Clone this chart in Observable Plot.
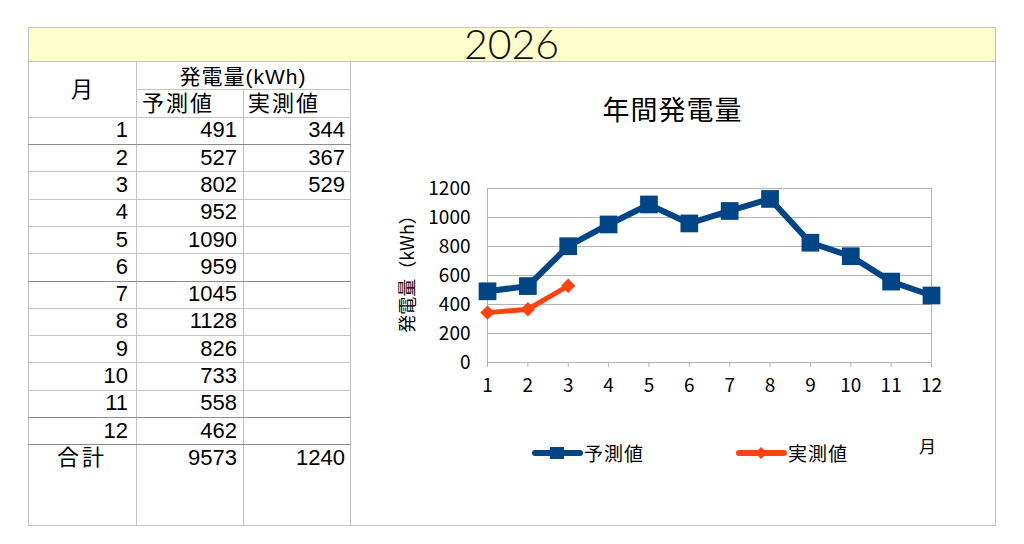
<!DOCTYPE html>
<html><head><meta charset="utf-8">
<script src="https://cdn.jsdelivr.net/npm/d3@7"></script>
<script src="https://cdn.jsdelivr.net/npm/@observablehq/plot@0.6"></script>
<style>
html,body{margin:0;padding:0;background:#fff;}
#root{position:relative;width:1024px;height:544px;overflow:hidden;font-family:"Noto Sans CJK JP","Noto Sans",sans-serif;color:#000;}
.ln{position:absolute;background:#c4c4c4;}
.cell{position:absolute;display:flex;align-items:center;font-family:"Liberation Sans","Noto Sans CJK JP",sans-serif;font-size:22px;line-height:1;white-space:nowrap;box-sizing:border-box;}
.cell span{display:block;line-height:1;}
</style></head><body><div id="root"></div>
<script>
// ---- data ----
const pageTitle = "2026";
const chartTitle = "年間発電量";
const monthHeader = "月";
const unitHeader = "発電量(kWh)";
const seriesNames = ["予測値", "実測値"];
const totalLabel = "合計";
const months = [1, 2, 3, 4, 5, 6, 7, 8, 9, 10, 11, 12];
const forecast = [491, 527, 802, 952, 1090, 959, 1045, 1128, 826, 733, 558, 462];
const actual = [344, 367, 529];
const totals = [9573, 1240];
const yTicks = [0, 200, 400, 600, 800, 1000, 1200];
const yLabel = "発電量（kWh）";
const xLabel = "月";
const colors = ["#004586", "#ff420e"];

const root = document.getElementById("root");
function el(tag, style, text) {
  const e = document.createElement(tag);
  Object.assign(e.style, style);
  if (text != null) e.textContent = text;
  root.appendChild(e);
  return e;
}
function hline(x1, x2, y, c) { const e = el("div", {left: x1 + "px", top: y + "px", width: (x2 - x1 + 1) + "px", height: "1px"}); e.className = "ln"; if (c) e.style.background = c; }
function vline(x, y1, y2, c) { const e = el("div", {left: x + "px", top: y1 + "px", width: "1px", height: (y2 - y1) + "px"}); e.className = "ln"; if (c) e.style.background = c; }
function cell(x1, x2, y1, y2, text, align, pad, extra) {
  const e = el("div", Object.assign({left: x1 + "px", top: y1 + "px", width: (x2 - x1) + "px", height: (y2 - y1) + "px",
    justifyContent: align === "right" ? "flex-end" : align === "center" ? "center" : "flex-start",
    paddingRight: align === "right" ? pad + "px" : "0", paddingLeft: align === "left" ? pad + "px" : "0"}, extra || {}));
  e.className = "cell";
  const sp = document.createElement("span");
  sp.textContent = text;
  e.appendChild(sp);
  return e;
}

// frame + yellow title bar
const L = 28, R = 995, T = 27, B = 525, Yb = 61;
el("div", {position: "absolute", left: L + "px", top: T + "px", width: (R - L) + "px", height: (Yb - T) + "px", background: "#ffffcc"});
hline(L, R, T); hline(L, R, Yb); hline(L, R, B); vline(L, T, B + 1); vline(R, T, B + 1);
el("div", {position: "absolute", left: L + "px", top: (T - 1) + "px", width: (R - L) + "px", height: (Yb - T) + "px",
  display: "flex", alignItems: "center", justifyContent: "center", fontFamily: "Lato, 'Open Sans', sans-serif", fontWeight: "300",
  fontSize: "41px", color: "#111", lineHeight: "1"}, pageTitle);

// table
const cx = [28, 136, 243, 350];
const h1 = 89, h2 = 116.7, rh = 27.3;
vline(cx[1], Yb, B); vline(cx[2], h1, B); vline(cx[3], Yb, B);
hline(cx[1], cx[3], h1);
hline(cx[0], cx[3], Math.round(h2));
months.forEach((m, i) => {
  const yb = Math.round(h2 + rh * (i + 1));
  const dark = (i === 0 || i === 5 || i === 10 || i === 11);
  hline(cx[0], cx[3], yb, dark ? "#8c8c8c" : null);
});
cell(cx[0], cx[1], Yb, h2, monthHeader, "center", 0, {paddingTop: "2px"});
cell(cx[1], cx[3], Yb, h1, unitHeader, "center", 0, {fontSize: "21px", letterSpacing: "1px", paddingTop: "2px"});
cell(cx[1], cx[2], h1, h2, seriesNames[0], "left", 6, {letterSpacing: "2px", paddingTop: "3px"});
cell(cx[2], cx[3], h1, h2, seriesNames[1], "left", 5, {letterSpacing: "2px", paddingTop: "3px"});
months.forEach((m, i) => {
  const y1 = h2 + rh * i, y2 = y1 + rh;
  cell(cx[0], cx[1], y1, y2, String(m), "right", 8);
  cell(cx[1], cx[2], y1, y2, String(forecast[i]), "right", 6);
  if (actual[i] != null) cell(cx[2], cx[3], y1, y2, String(actual[i]), "right", 5);
});
{
  const y1 = h2 + rh * 12, y2 = y1 + rh;
  cell(cx[0], cx[1], y1, y2, totalLabel, "center", 0, {letterSpacing: "3px"});
  cell(cx[1], cx[2], y1, y2, String(totals[0]), "right", 6);
  cell(cx[2], cx[3], y1, y2, String(totals[1]), "right", 5);
}

// chart title
el("div", {position: "absolute", left: "350px", top: "93px", width: "645px", textAlign: "center", fontSize: "27px", lineHeight: "32px", letterSpacing: "1px"}, chartTitle);

// chart
const fData = months.map((m, i) => ({month: m, value: forecast[i]}));
const aData = actual.map((v, i) => ({month: months[i], value: v}));
const chart = Plot.plot({
  width: 645, height: 300,
  marginLeft: 137, marginRight: 64, marginTop: 18, marginBottom: 108,
  x: {domain: [1, 12]},
  y: {domain: [0, 1200]},
  style: {fontFamily: "'Noto Sans CJK JP','Noto Sans',sans-serif", fontSize: "19px", color: "#000", background: "transparent", overflow: "visible"},
  marks: [
    Plot.ruleY(yTicks, {stroke: "#b3b3b3", strokeWidth: 1}),
    Plot.ruleX([months[0], months[months.length - 1]], {stroke: "#b3b3b3", strokeWidth: 1}),
    Plot.axisX({ticks: months, tickSize: 5, tickPadding: 11, stroke: "#b3b3b3", fill: "#000", fontSize: 19, label: null, tickFormat: d => String(d)}),
    Plot.axisY({ticks: yTicks, tickSize: 0, tickPadding: 17, fill: "#000", fontSize: 19, label: null, tickFormat: d => String(d)}),
    Plot.text([yLabel], {frameAnchor: "left", dx: -79, dy: -6, rotate: -90, textAnchor: "middle", lineAnchor: "middle", fontSize: 18, fill: "#000"}),
    Plot.text([xLabel], {frameAnchor: "bottom-right", dx: -4, dy: 85, textAnchor: "middle", lineAnchor: "middle", fontSize: 17, fill: "#000"}),
    Plot.line(fData, {x: "month", y: "value", stroke: colors[0], strokeWidth: 6, strokeLinejoin: "round"}),
    Plot.dot(fData, {x: "month", y: "value", symbol: "square", r: 10, fill: colors[0], stroke: "none"}),
    Plot.line(aData, {x: "month", y: "value", stroke: colors[1], strokeWidth: 5, strokeLinejoin: "round"}),
    Plot.dot(aData, {x: "month", y: "value", symbol: "diamond2", r: 6.5, fill: colors[1], stroke: "none"})
  ]
});
const wrap = el("div", {position: "absolute", left: "350px", top: "170px"});
wrap.appendChild(chart);

// legend
function legendItem(x, color, shape, label) {
  const svgNS = "http://www.w3.org/2000/svg";
  const s = document.createElementNS(svgNS, "svg");
  s.setAttribute("width", "50"); s.setAttribute("height", "20");
  Object.assign(s.style, {position: "absolute", left: x + "px", top: "443px", overflow: "visible"});
  const l = document.createElementNS(svgNS, "line");
  l.setAttribute("x1", "2"); l.setAttribute("x2", "47"); l.setAttribute("y1", "10"); l.setAttribute("y2", "10");
  l.setAttribute("stroke", color); l.setAttribute("stroke-width", "6"); l.setAttribute("stroke-linecap", "round");
  s.appendChild(l);
  const p = document.createElementNS(svgNS, "path");
  p.setAttribute("d", shape === "square" ? "M17,4H31V16H17Z" : "M24,4L30,10L24,16L18,10Z");
  p.setAttribute("fill", color);
  s.appendChild(p);
  root.appendChild(s);
  el("div", {position: "absolute", left: (x + 51) + "px", top: "440px", fontSize: "19px", lineHeight: "26px", letterSpacing: "1px"}, label);
}
legendItem(533, colors[0], "square", seriesNames[0]);
legendItem(737, colors[1], "diamond", seriesNames[1]);
</script></body></html>
